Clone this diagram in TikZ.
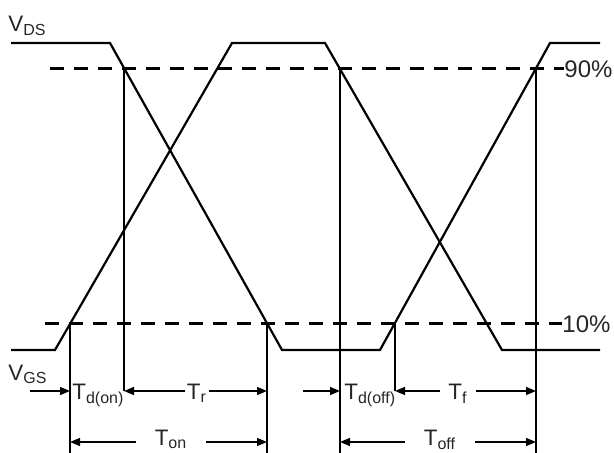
\documentclass[tikz,border=0pt]{standalone}
\usepackage{fontspec}
\setmainfont{Liberation Sans}
\usetikzlibrary{arrows.meta}
\newcommand\lowtxt[1]{\textsubscript{\fontsize{8}{9}\selectfont #1}}

\begin{document}
\begin{tikzpicture}[x=0.5pt,y=-0.5pt,
  wave/.style={line width=1.1pt,line join=miter},
  level/.style={line width=1.5pt,dash pattern=on 7pt off 5pt},
  vline/.style={line width=1.4pt},
  dim/.style={line width=0.7pt,{Triangle[length=5pt,width=4pt]}-{Triangle[length=5pt,width=4pt]}},
  dimr/.style={line width=0.7pt,-{Triangle[length=5pt,width=4pt]}},
  lbl/.style={fill=white,inner xsep=#1,inner ysep=0pt,anchor=base,text=black!85,
    font=\fontsize{11.2}{13}\selectfont},
  lbl/.default=1pt,
  sig/.style={inner sep=0pt,anchor=base west,text=black!85,font=\fontsize{12}{14}\selectfont}]
\useasboundingbox (0,0) rectangle (614,453);

% signals
\draw[wave] (11,43) -- (110,43) -- (282,350) -- (380,350) -- (550,43) -- (600,43);
\draw[wave] (11,350) -- (55,350) -- (232,43) -- (325,43) -- (502,350) -- (600,350);
\node[sig,font=\fontsize{11.2}{13}\selectfont] (vds) at (8,32) {V\lowtxt{DS}};
\node[sig,font=\fontsize{11.2}{13}\selectfont] (vgs) at (8,380) {V\lowtxt{GS}};

% 90% and 10% levels
\coordinate (hi0) at (50,69);
\coordinate (lo0) at (45,324);
\node[sig] (p90) at (564,78) {90\%};
\node[sig] (p10) at (562,333) {10\%};
\draw[level] (hi0) -- (p90.west |- hi0);
\draw[level] (lo0) -- (p10.west |- lo0);

% crossing points
\coordinate (a) at (70,324);
\coordinate (b) at (124,69);
\coordinate (c) at (267,324);
\coordinate (d) at (340,69);
\coordinate (e) at (395,324);
\coordinate (f) at (536,69);
\coordinate (r1) at (0,391);
\coordinate (r2) at (0,442);
\coordinate (bot) at (0,453);

\draw[vline] (a) -- (a |- bot);
\draw[vline] (b) -- (b |- r1);
\draw[vline] (c) -- (c |- bot);
\draw[vline] (d) -- (d |- bot);
\draw[vline] (e) -- (e |- r1);
\draw[vline] (f) -- (f |- bot);

% times
\coordinate (t0) at (30,391);
\coordinate (t1) at (303,391);
\draw[dimr] (t0) -- (a |- r1);
\draw[dimr] (t1) -- (d |- r1);
\node[lbl,fill=none,anchor=base west,inner xsep=0pt] (tdon) at (72,399) {T\lowtxt{d(on)}};
\node[lbl,fill=none,anchor=base west,inner xsep=0pt] (tdoff) at (344,399) {T\lowtxt{d(off)}};

\draw[dim] (b |- r1) -- (c |- r1);
\node[lbl=1pt] (tr) at (197,399) {T\lowtxt{r}};
\draw[dim] (e |- r1) -- (f |- r1);
\node[lbl=4pt] (tf) at (458,399) {T\lowtxt{f}};

\draw[dim] (a |- r2) -- (c |- r2);
\node[lbl=9.5pt] (ton) at (171,445) {T\lowtxt{on}};
\draw[dim] (d |- r2) -- (f |- r2);
\node[lbl=9.5pt] (toff) at (440,445) {T\lowtxt{off}};
\end{tikzpicture}
\end{document}
